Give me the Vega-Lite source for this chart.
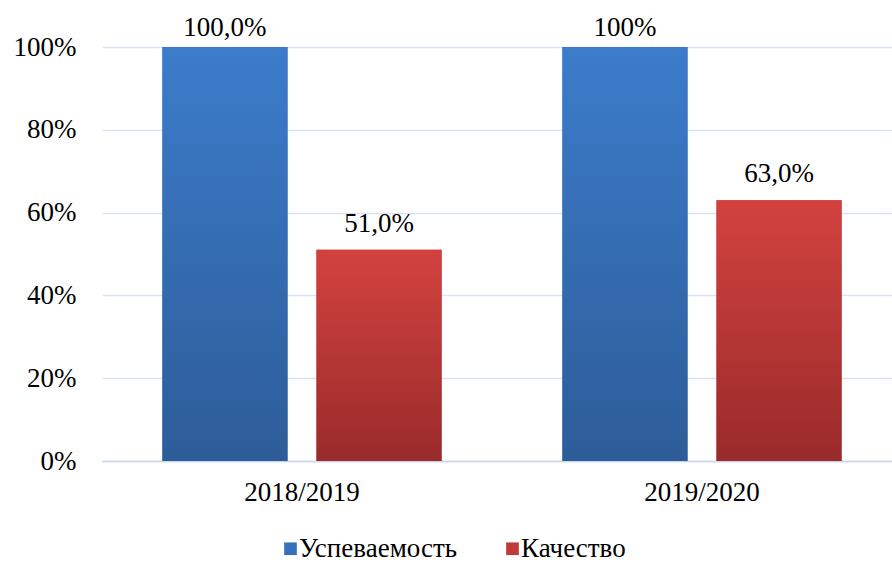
{
  "$schema": "https://vega.github.io/schema/vega-lite/v6.json",
  "autosize": {"type": "none"},
  "width": 790,
  "height": 414,
  "padding": {"left": 102, "top": 47, "right": 0, "bottom": 105},
  "background": "white",
  "config": {
    "view": {"stroke": null},
    "font": "Liberation Serif"
  },
  "data": {
    "values": [
      {"year": "2018/2019", "series": "Успеваемость", "value": 1.0, "label": "100,0%"},
      {"year": "2018/2019", "series": "Качество", "value": 0.51, "label": "51,0%"},
      {"year": "2019/2020", "series": "Успеваемость", "value": 1.0, "label": "100%"},
      {"year": "2019/2020", "series": "Качество", "value": 0.63, "label": "63,0%"}
    ]
  },
  "encoding": {
    "x": {
      "field": "year", "type": "nominal",
      "scale": {"range": [0, 800], "paddingInner": 0, "paddingOuter": 0},
      "axis": {
        "title": null, "labelAngle": 0, "labelFontSize": 27, "labelColor": "#000000",
        "labelFont": "Liberation Serif", "ticks": false, "domainColor": "#c9d7ec", "domainWidth": 1.5,
        "labelPadding": 18
      }
    },
    "xOffset": {
      "field": "series", "type": "nominal", "sort": ["Успеваемость", "Качество"],
      "scale": {"paddingInner": 0.188, "paddingOuter": 0.392}
    },
    "y": {
      "field": "value", "type": "quantitative",
      "scale": {"domain": [0, 1]},
      "axis": {
        "title": null, "format": ".0%", "values": [0, 0.2, 0.4, 0.6, 0.8, 1.0],
        "labelFontSize": 27, "labelColor": "#000000", "labelFont": "Liberation Serif",
        "ticks": false, "domain": false, "gridColor": "#d9e3f1", "gridWidth": 1.5,
        "labelPadding": 26
      }
    }
  },
  "layer": [
    {
      "mark": {"type": "bar"},
      "encoding": {
        "color": {
          "field": "series", "type": "nominal", "sort": ["Успеваемость", "Качество"],
          "scale": {"domain": ["Успеваемость", "Качество"], "range": ["#3672bb", "#c03a38"]},
          "legend": {
            "title": null, "orient": "none", "direction": "horizontal",
            "legendX": 175, "legendY": 488,
            "symbolType": "square", "symbolSize": 160, "symbolStrokeWidth": 0,
            "labelFontSize": 27, "labelFont": "Liberation Serif", "labelColor": "#000000",
            "columnPadding": 41, "labelOffset": -5, "labelLimit": 400
          }
        }
      }
    },
    {
      "mark": {"type": "bar"},
      "encoding": {
        "color": {
          "condition": {
            "test": "datum.series === 'Качество'",
            "value": {
              "gradient": "linear", "x1": 0, "y1": 0, "x2": 0, "y2": 1,
              "stops": [{"offset": 0, "color": "#d2423f"}, {"offset": 1, "color": "#992b2a"}]
            }
          },
          "value": {
            "gradient": "linear", "x1": 0, "y1": 0, "x2": 0, "y2": 1,
            "stops": [{"offset": 0, "color": "#3c7ccb"}, {"offset": 1, "color": "#2d5c98"}]
          }
        }
      }
    },
    {
      "transform": [{"filter": "datum.value >= 1"}],
      "mark": {"type": "text", "baseline": "alphabetic", "dy": -11, "fontSize": 27, "font": "Liberation Serif", "color": "#000000"},
      "encoding": {
        "text": {"field": "label", "type": "nominal"}
      }
    },
    {
      "transform": [{"filter": "datum.value < 1"}],
      "mark": {"type": "text", "baseline": "alphabetic", "dy": -18, "fontSize": 27, "font": "Liberation Serif", "color": "#000000"},
      "encoding": {
        "text": {"field": "label", "type": "nominal"}
      }
    }
  ]
}
